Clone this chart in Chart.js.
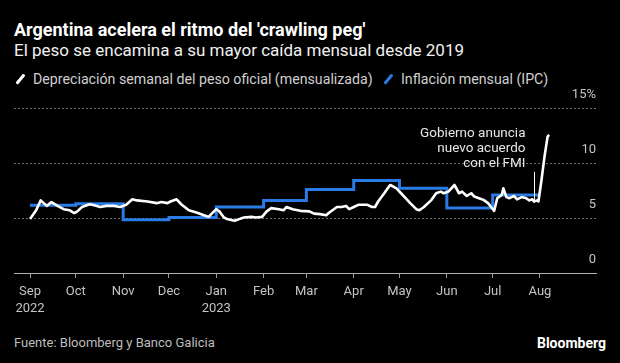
<!DOCTYPE html>
<html lang="es">
<head>
<meta charset="utf-8">
<script src="https://cdn.jsdelivr.net/npm/chart.js@4/dist/chart.umd.min.js"></script>
<style>
  html, body { margin: 0; padding: 0; background: #000; }
  body { width: 620px; height: 363px; position: relative; overflow: hidden; font-family: Roboto, 'Noto Sans', sans-serif; }
  .txt { position: absolute; white-space: nowrap; }
  #title { left: 14px; top: 19px; font-size: 18px; line-height: 22px; font-weight: 700; color: #fff; }
  #subtitle { left: 14px; top: 39px; font-size: 17px; line-height: 22px; color: #f0f0f0; }
  .legend { top: 70px; font-size: 14.2px; line-height: 18px; color: #d0d0d0; }
  .legend .icon { display: inline-block; width: 12px; height: 18px; position: relative; vertical-align: top; margin-right: 7px; }
  .legend .icon::after { content: ''; position: absolute; left: 5px; top: 3px; width: 2.6px; height: 12px; border-radius: 1px; background: var(--c); transform: rotate(40deg); }
  #leg1 { left: 14px; }
  #leg2 { left: 382px; }
  #source { left: 14px; top: 334px; font-size: 13px; line-height: 18px; color: #bdbdbd; }
  #brand { right: 14px; top: 334px; font-size: 14px; line-height: 18px; font-weight: 700; color: #fff; }
  #chart-wrap { position: absolute; left: 0; top: 85px; width: 620px; height: 232px; }
</style>
</head>
<body>
<div class="txt" id="title">Argentina acelera el ritmo del 'crawling peg'</div>
<div class="txt" id="subtitle">El peso se encamina a su mayor caída mensual desde 2019</div>
<div class="txt legend" id="leg1"><span class="icon" style="--c:#ffffff"></span>Depreciación semanal del peso oficial (mensualizada)</div>
<div class="txt legend" id="leg2"><span class="icon" style="--c:#2a7be6"></span>Inflación mensual (IPC)</div>
<div id="chart-wrap"><canvas id="chart"></canvas></div>
<div class="txt" id="source">Fuente: Bloomberg y Banco Galicia</div>
<div class="txt" id="brand">Bloomberg</div>
<script>
'use strict';

// ── Data ────────────────────────────────────────────────────────

const monthTicks = ['2022-09-01', '2022-10-01', '2022-11-01', '2022-12-01', '2023-01-01', '2023-02-01',
                    '2023-03-01', '2023-04-01', '2023-05-01', '2023-06-01', '2023-07-01', '2023-08-01'];
const monthLabels = [['Sep', '2022'], 'Oct', 'Nov', 'Dec', ['Jan', '2023'], 'Feb',
                     'Mar', 'Apr', 'May', 'Jun', 'Jul', 'Aug'];
const yTickValues = [0, 5, 10, 15];

// Depreciación semanal del peso oficial (mensualizada), %
const depDates = [
  '2022-09-01', '2022-09-05', '2022-09-08', '2022-09-10', '2022-09-12', '2022-09-15', '2022-09-19',
  '2022-09-23', '2022-09-27', '2022-09-30', '2022-10-02', '2022-10-05', '2022-10-10', '2022-10-13',
  '2022-10-17', '2022-10-21', '2022-10-26', '2022-10-30', '2022-11-03', '2022-11-07', '2022-11-10',
  '2022-11-17', '2022-11-23', '2022-11-26', '2022-11-30', '2022-12-02', '2022-12-06', '2022-12-09',
  '2022-12-14', '2022-12-19', '2022-12-23', '2022-12-27', '2022-12-29', '2023-01-01', '2023-01-03',
  '2023-01-06', '2023-01-08', '2023-01-13', '2023-01-16', '2023-01-19', '2023-01-24', '2023-01-27',
  '2023-01-31', '2023-02-03', '2023-02-06', '2023-02-11', '2023-02-14', '2023-02-16', '2023-02-20',
  '2023-02-25', '2023-03-03', '2023-03-06', '2023-03-10', '2023-03-14', '2023-03-16', '2023-03-19',
  '2023-03-21', '2023-03-24', '2023-03-27', '2023-03-29', '2023-04-01', '2023-04-04', '2023-04-10',
  '2023-04-13', '2023-04-15', '2023-04-17', '2023-04-21', '2023-04-24', '2023-04-25', '2023-04-29',
  '2023-05-02', '2023-05-05', '2023-05-08', '2023-05-12', '2023-05-14', '2023-05-17', '2023-05-22',
  '2023-05-25', '2023-05-28', '2023-05-30', '2023-06-02', '2023-06-06', '2023-06-09', '2023-06-11',
  '2023-06-14', '2023-06-17', '2023-06-19', '2023-06-22', '2023-06-25', '2023-06-28', '2023-06-30',
  '2023-07-02', '2023-07-04', '2023-07-07', '2023-07-08', '2023-07-10', '2023-07-12', '2023-07-15',
  '2023-07-17', '2023-07-20', '2023-07-23', '2023-07-25', '2023-07-27', '2023-07-28', '2023-07-30',
  '2023-07-31', '2023-08-02', '2023-08-04', '2023-08-06', '2023-08-07',
];
const depValues = [
  4.9, 5.7, 6.6, 6.35, 6.1, 6.45, 6.1,
  5.8, 5.7, 5.45, 5.6, 6.0, 6.25, 6.15,
  6.0, 6.1, 6.1, 6.0, 6.2, 6.7, 6.6,
  6.5, 6.35, 6.45, 6.35, 6.5, 6.7, 6.25,
  5.7, 5.5, 5.3, 5.1, 5.4, 5.8, 5.6,
  5.05, 4.9, 4.75, 4.9, 5.05, 5.1, 5.05,
  5.1, 5.6, 5.9, 5.8, 5.7, 6.0, 5.8,
  5.65, 5.6, 5.4, 5.35, 5.25, 5.5, 5.8,
  6.0, 6.0, 6.1, 5.8, 6.0, 6.2, 6.2,
  6.0, 6.0, 6.5, 7.25, 7.85, 8.0, 7.7,
  7.25, 6.8, 6.35, 5.8, 5.7, 6.0, 6.65,
  7.25, 7.4, 7.25, 7.4, 8.0, 7.25, 7.4,
  7.0, 7.25, 6.95, 6.8, 6.65, 6.35, 6.0,
  5.65, 6.8, 7.1, 7.7, 6.9, 6.8, 7.0,
  6.7, 6.9, 6.8, 6.6, 6.7, 6.5, 6.6,
  6.5, 8.45, 10.6, 12.4, 12.55,
];

// Inflación mensual (IPC), %; each value holds until the next date
const ipcDates = ['2022-09-01', '2022-10-01', '2022-11-01', '2022-12-01', '2023-01-01', '2023-02-01',
                  '2023-03-01', '2023-04-01', '2023-05-01', '2023-06-01', '2023-07-01', '2023-08-01'];
const ipcValues = [6.15, 6.3, 4.85, 5.05, 6.0, 6.6, 7.6, 8.4, 7.7, 5.9, 7.1, 7.1];

const annotationDate = '2023-07-28';
const annotationLines = ['Gobierno anuncia', 'nuevo acuerdo', 'con el FMI'];

// ── Helpers ─────────────────────────────────────────────────────

const ORIGIN = Date.UTC(2022, 8, 1);

function dayOf(iso) {
  const [y, m, d] = iso.split('-').map(Number);
  return (Date.UTC(y, m - 1, d) - ORIGIN) / 864e5;
}

function toPoints(dates, values) {
  return dates.map((d, i) => ({ x: dayOf(d), y: values[i] }));
}

const AXIS_TEXT = '#c4c4c4';
const FONT = 'Roboto, "Noto Sans", sans-serif';

// Vertical marker + note for the IMF announcement
const annotationPlugin = {
  id: 'fmiNote',
  afterDatasetsDraw(chart) {
    const { ctx, scales: { x, y } } = chart;
    const px = Math.round(x.getPixelForValue(dayOf(annotationDate))) + 0.5;
    const top = y.getPixelForValue(9.2);
    const bottom = y.getPixelForValue(6.4);
    ctx.save();
    ctx.strokeStyle = '#ffffff';
    ctx.lineWidth = 1;
    ctx.beginPath();
    ctx.moveTo(px, top);
    ctx.lineTo(px, bottom);
    ctx.stroke();
    ctx.fillStyle = '#e6e6e6';
    ctx.font = `13.5px ${FONT}`;
    ctx.textAlign = 'right';
    ctx.textBaseline = 'middle';
    annotationLines.forEach((line, i) => {
      ctx.fillText(line, px - 9, top - 8 - (annotationLines.length - 1 - i) * 15);
    });
    ctx.restore();
  },
};

new Chart(document.getElementById('chart').getContext('2d'), {
  type: 'line',
  data: {
    datasets: [
      {
        label: 'Depreciación semanal del peso oficial (mensualizada)',
        data: toPoints(depDates, depValues),
        borderColor: '#ffffff',
        borderWidth: 2.6,
        pointRadius: 0,
        tension: 0,
        borderJoinStyle: 'round',
      },
      {
        label: 'Inflación mensual (IPC)',
        data: toPoints(ipcDates, ipcValues),
        borderColor: '#2a7be6',
        borderWidth: 3,
        pointRadius: 0,
        stepped: true,
      },
    ],
  },
  options: {
    responsive: true,
    maintainAspectRatio: false,
    animation: false,
    devicePixelRatio: 1,
    layout: { padding: { top: 23, left: 14, right: 24, bottom: 0 } },
    plugins: {
      legend: { display: false },
      tooltip: { enabled: false },
    },
    scales: {
      x: {
        type: 'linear',
        min: -10.5,
        max: 370.7,
        afterBuildTicks(scale) {
          scale.ticks = monthTicks.map(d => ({ value: dayOf(d) }));
        },
        afterFit(scale) {
          scale.height = 44;
        },
        grid: { drawOnChartArea: false, drawTicks: true, tickLength: 5, color: '#a0a0a0' },
        border: { display: true, color: '#b0b0b0', width: 1 },
        ticks: {
          color: AXIS_TEXT,
          font: { family: FONT, size: 13, lineHeight: 1.3 },
          padding: 5,
          maxRotation: 0,
          autoSkip: false,
          callback: (value, index) => monthLabels[index],
        },
      },
      y: {
        position: 'right',
        min: 0,
        max: 15,
        afterBuildTicks(scale) {
          scale.ticks = yTickValues.map(v => ({ value: v }));
        },
        grid: {
          drawTicks: false,
          color: ctx => (ctx.tick && ctx.tick.value === 0 ? 'rgba(0,0,0,0)' : '#6e6e6e'),
          lineWidth: 1,
        },
        border: { display: false, dash: [2, 2] },
        ticks: {
          color: AXIS_TEXT,
          font: { family: FONT, size: 13 },
          mirror: true,
          padding: 0,
          labelOffset: -13,
          callback: v => (v === 15 ? '15%' : String(v)),
        },
      },
    },
  },
  plugins: [annotationPlugin],
});
</script>
</body>
</html>
